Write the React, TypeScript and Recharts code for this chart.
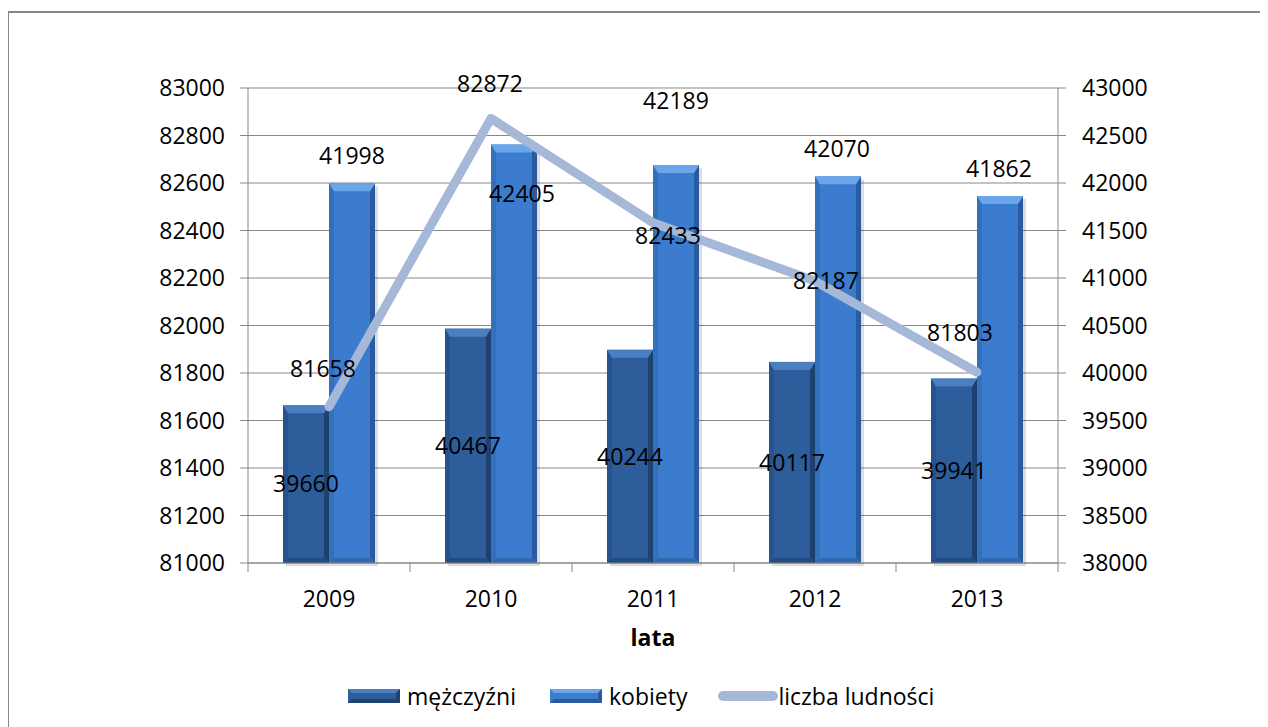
import { ComposedChart, Bar, Line, XAxis, YAxis, CartesianGrid, Legend, LabelList } from 'recharts';

const years = ['2009', '2010', '2011', '2012', '2013'];
const men = [39660, 40467, 40244, 40117, 39941];
const women = [41998, 42405, 42189, 42070, 41862];
const population = [81658, 82872, 82433, 82187, 81803];

const leftTicks = [81000, 81200, 81400, 81600, 81800, 82000, 82200, 82400, 82600, 82800, 83000];
const rightTicks = [38000, 38500, 39000, 39500, 40000, 40500, 41000, 41500, 42000, 42500, 43000];

// labels were dragged around by hand in the original, so nudge them the same way
const popLabelShift = [[-6, -39], [-1, -35], [15, 12], [11, -1], [-17, -40]];
const womenLabelShift = [[0, -28], [8, 48], [0, -65], [-1, -28], [-1, -28]];

const FONT = '"Open Sans", sans-serif';
const GRID = '#878787';
const LINE_COLOR = '#a5b8d8';

const CHART_W = 1254;
const CHART_H = 720;
const MARGIN = { top: 75, right: 105, bottom: 23, left: 159 };
const LEFT_AXIS_W = 80;
const RIGHT_AXIS_W = 100;
const X_TICK_GAP = 28;
const BAND = (CHART_W - MARGIN.left - MARGIN.right - LEFT_AXIS_W - RIGHT_AXIS_W) / years.length;

const menColors = { body: '#2d5d9a', top: '#4a80c2', left: '#27538c', right: '#1f416f', bottom: '#234b80' };
const womenColors = { body: '#3b7cce', top: '#6ba6ea', left: '#3570bb', right: '#2a5b9e', bottom: '#3268ae' };

const rows = years.map((year, i) => ({
  year,
  men: men[i],
  women: women[i],
  population: population[i],
}));

const makeBevelBar = (pal: any) => (props: any) => {
  const { x, y, width: w, height: h } = props;
  if (!h || h <= 0) return null;
  const s = 5;
  const t = 8;
  return (
    <g>
      <rect x={x + 3} y={y + 3} width={w} height={h} fill="rgba(0,0,0,0.13)" />
      <rect x={x} y={y} width={w} height={h} fill={pal.body} />
      <polygon points={`${x},${y} ${x + s},${y + t} ${x + s},${y + h - s} ${x},${y + h}`} fill={pal.left} />
      <polygon points={`${x + w},${y} ${x + w},${y + h} ${x + w - s},${y + h - s} ${x + w - s},${y + t}`} fill={pal.right} />
      <polygon points={`${x},${y + h} ${x + s},${y + h - s} ${x + w - s},${y + h - s} ${x + w},${y + h}`} fill={pal.bottom} />
      <polygon points={`${x},${y} ${x + w},${y} ${x + w - s},${y + t} ${x + s},${y + t}`} fill={pal.top} />
    </g>
  );
};

const MenBar = makeBevelBar(menColors);
const WomenBar = makeBevelBar(womenColors);

// year label plus the tick marks that sit between categories
const YearTick = (props: any) => {
  const { x, y, payload, index } = props;
  const axisY = y - X_TICK_GAP;
  const half = BAND / 2;
  return (
    <g>
      <line x1={x - half} y1={axisY} x2={x - half} y2={axisY + 9} stroke={GRID} />
      {index === years.length - 1 && <line x1={x + half} y1={axisY} x2={x + half} y2={axisY + 9} stroke={GRID} />}
      <text x={x} y={y} dy="0.71em" textAnchor="middle" fontSize={23} fill="#000">
        {payload.value}
      </text>
    </g>
  );
};

const PopLabel = (props: any) => {
  const { x, y, value, index } = props;
  const [dx, dy] = popLabelShift[index];
  return (
    <text x={x + dx} y={y + dy} textAnchor="middle" dominantBaseline="central" fontSize={23} fill="#000">
      {value}
    </text>
  );
};

const WomenLabel = (props: any) => {
  const { x, y, width, value, index } = props;
  const [dx, dy] = womenLabelShift[index];
  return (
    <text x={x + width / 2 + dx} y={y + dy} textAnchor="middle" dominantBaseline="central" fontSize={23} fill="#000">
      {value}
    </text>
  );
};

const BarIcon = ({ pal }: any) => (
  <svg width={52} height={14} style={{ display: 'block' }}>
    <rect x={0} y={0} width={52} height={14} fill={pal.body} />
    <polygon points="0,0 52,0 48,4 4,4" fill={pal.top} />
    <polygon points="0,14 4,10 48,10 52,14" fill={pal.right} />
    <polygon points="52,0 52,14 48,10 48,4" fill={pal.right} />
  </svg>
);

const LegendContent = () => (
  <div
    style={{
      display: 'flex',
      alignItems: 'center',
      height: 28,
      paddingLeft: 339,
      fontSize: 23,
      fontFamily: FONT,
      color: '#000',
      whiteSpace: 'nowrap',
    }}
  >
    <BarIcon pal={menColors} />
    <span style={{ marginLeft: 7, marginRight: 34 }}>mężczyźni</span>
    <BarIcon pal={womenColors} />
    <span style={{ marginLeft: 7, marginRight: 31 }}>kobiety</span>
    <svg width={60} height={12} style={{ display: 'block' }}>
      <line x1={5} y1={6} x2={55} y2={6} stroke={LINE_COLOR} strokeWidth={10} strokeLinecap="round" />
    </svg>
    <span>liczba ludności</span>
  </div>
);

export default function App() {
  return (
    <div style={{ paddingTop: 3, fontFamily: FONT }}>
      <div
        style={{
          position: 'relative',
          marginLeft: -1,
          width: CHART_W,
          height: CHART_H,
          border: `2px solid ${GRID}`,
          background: '#fff',
        }}
      >
        <ComposedChart
          width={CHART_W}
          height={CHART_H}
          data={rows}
          margin={MARGIN}
          barCategoryGap="21.6%"
          barGap={0}
          style={{ fontFamily: FONT }}
        >
          <CartesianGrid vertical={false} stroke={GRID} yAxisId="left" />
          <XAxis
            dataKey="year"
            height={119}
            axisLine={{ stroke: GRID }}
            tickLine={false}
            tickSize={0}
            tickMargin={X_TICK_GAP}
            interval={0}
            tick={<YearTick />}
            label={{ value: 'lata', position: 'insideBottom', offset: 36, style: { fontSize: 23, fontWeight: 'bold', fill: '#000' } }}
          />
          <YAxis
            yAxisId="left"
            domain={[81000, 83000]}
            ticks={leftTicks}
            interval={0}
            width={LEFT_AXIS_W}
            tickSize={8}
            tickMargin={15}
            axisLine={{ stroke: GRID }}
            tickLine={{ stroke: GRID }}
            tick={{ fontSize: 23, fill: '#000' }}
          />
          <YAxis
            yAxisId="right"
            orientation="right"
            domain={[38000, 43000]}
            ticks={rightTicks}
            interval={0}
            width={RIGHT_AXIS_W}
            tickSize={8}
            tickMargin={16}
            axisLine={{ stroke: GRID }}
            tickLine={{ stroke: GRID }}
            tick={{ fontSize: 23, fill: '#000', textAnchor: 'start' }}
          />
          <Legend verticalAlign="bottom" wrapperStyle={{ left: 0, width: CHART_W }} content={<LegendContent />} />
          <Bar dataKey="men" name="mężczyźni" yAxisId="right" fill={menColors.body} shape={MenBar} isAnimationActive={false}>
            <LabelList dataKey="men" position="center" fontSize={23} fill="#000" />
          </Bar>
          <Bar dataKey="women" name="kobiety" yAxisId="right" fill={womenColors.body} shape={WomenBar} isAnimationActive={false}>
            <LabelList dataKey="women" content={<WomenLabel />} />
          </Bar>
          <Line
            dataKey="population"
            name="liczba ludności"
            yAxisId="left"
            type="linear"
            stroke={LINE_COLOR}
            strokeWidth={9}
            strokeLinecap="round"
            strokeLinejoin="round"
            dot={false}
            isAnimationActive={false}
          >
            <LabelList dataKey="population" content={<PopLabel />} />
          </Line>
        </ComposedChart>
      </div>
    </div>
  );
}
